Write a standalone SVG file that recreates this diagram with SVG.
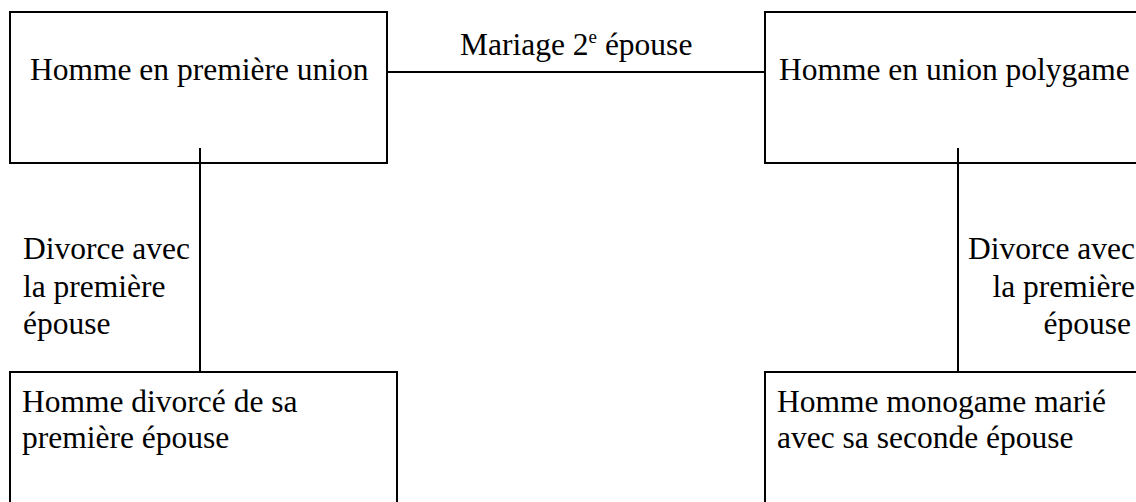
<svg xmlns="http://www.w3.org/2000/svg" width="1136" height="502" viewBox="0 0 1136 502">
<style>
.box{fill:#fff;stroke:#000;stroke-width:2}
.t{font-family:"Liberation Serif","Times New Roman",serif;font-size:31.5px;fill:#000}
.c{stroke:#000;stroke-width:2;fill:none}
</style>
<rect width="1136" height="502" fill="#fff"/>
<g id="connectors">
<line class="c" x1="387" y1="72" x2="765" y2="72"/>
<line class="c" x1="200" y1="148" x2="200" y2="373"/>
<line class="c" x1="958" y1="148" x2="958" y2="373"/>
</g>
<g id="node-premiere-union">
<rect class="box" x="10" y="12" width="377" height="151" style="fill:none"/>
<text class="t" x="30" y="80">Homme en première union</text>
</g>
<g id="node-polygame">
<rect class="box" x="765" y="12" width="400" height="151" style="fill:none"/>
<text class="t" x="779" y="80">Homme en union polygame</text>
</g>
<g id="node-divorce">
<rect class="box" x="10" y="372" width="387" height="150"/>
<text class="t" x="22" y="412">Homme divorcé de sa</text>
<text class="t" x="22" y="448">première épouse</text>
</g>
<g id="node-monogame">
<rect class="box" x="765" y="372" width="400" height="150"/>
<text class="t" x="777" y="412">Homme monogame marié</text>
<text class="t" x="777" y="448">avec sa seconde épouse</text>
</g>
<g id="labels">
<text class="t" x="460" y="55">Mariage 2<tspan font-size="19" dy="-12">e</tspan><tspan dy="12"> épouse</tspan></text>
<text class="t" x="23" y="259">Divorce avec</text>
<text class="t" x="23" y="297">la première</text>
<text class="t" x="23" y="334">épouse</text>
<text class="t" x="1135" y="259" text-anchor="end">Divorce avec</text>
<text class="t" x="1135" y="297" text-anchor="end">la première</text>
<text class="t" x="1131" y="334" text-anchor="end">épouse</text>
</g>
</svg>
